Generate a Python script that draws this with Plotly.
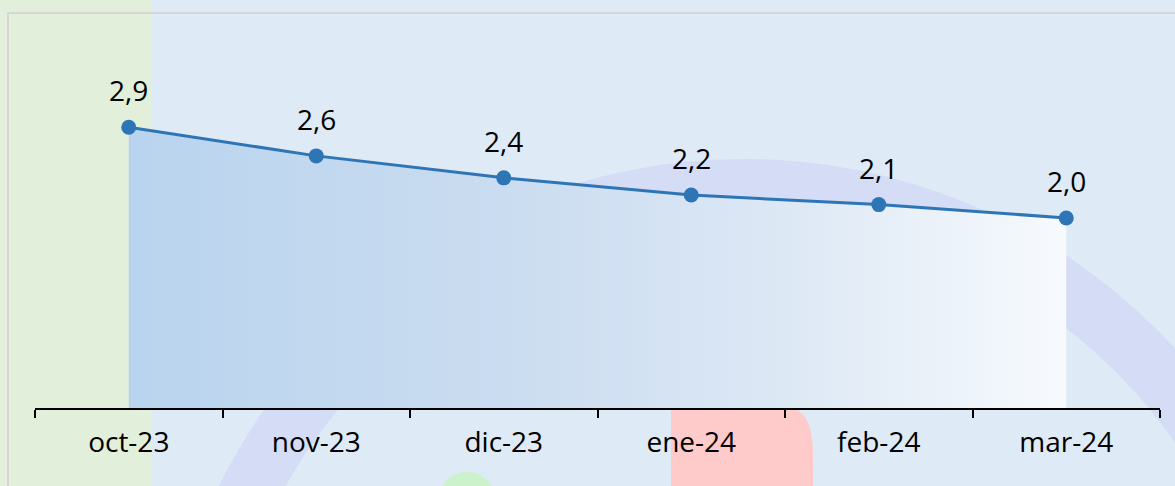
import plotly.graph_objects as go

# ---- data ----
categories = ["oct-23", "nov-23", "dic-23", "ene-24", "feb-24", "mar-24"]
values = [2.94, 2.64, 2.41, 2.23, 2.13, 1.99]
labels = [f"{v:.1f}".replace(".", ",") for v in values]

# ---- layout geometry (pixels) ----
W, H = 1175, 486
ML, MR, MT, MB = 35, 15, 26, 78
PW = W - ML - MR
PH = H - MT - MB
YMAX = PH / 95.5

BG = "#deeaf5"
LINE = "#2e75b6"
FONT = "Open Sans"


def px(x):
    return (x - ML) / PW


def py(y):
    return (H - MB - y) / PH


def circle(cx, cy, r, color):
    return dict(type="circle", xref="paper", yref="paper", layer="below",
                x0=px(cx - r), x1=px(cx + r), y0=py(cy + r), y1=py(cy - r),
                fillcolor=color, line=dict(width=0))


shapes = [
    # green strip on the left
    dict(type="rect", xref="paper", yref="paper", layer="below",
         x0=px(-5), x1=px(152), y0=py(H + 5), y1=py(-5),
         fillcolor="#e2efda", line=dict(width=0)),
    # lavender ring
    circle(744, 744, 585, "#d4dcf6"),
    circle(744, 744, 526, BG),
    # green blob
    circle(467, 501, 29, "#ccf2cc"),
]

# red rounded shape
path = "M {},{} L {},{} L {},{} Q {},{} {},{} L {},{} Z".format(
    px(671), py(H + 5), px(671), py(408), px(787), py(408),
    px(813), py(408), px(813), py(455), px(813), py(H + 5))
shapes.append(dict(type="path", xref="paper", yref="paper", layer="below",
                   path=path, fillcolor="#ffcaca", line=dict(width=0)))

# light border of the chart area
shapes.append(dict(type="rect", xref="paper", yref="paper", layer="below",
                   x0=px(8), x1=px(W + 10), y0=py(H + 10), y1=py(13),
                   fillcolor="rgba(0,0,0,0)", line=dict(color="#d6d6d6", width=2)))

fig = go.Figure()
fig.add_trace(go.Scatter(
    x=categories, y=values, mode="lines+markers",
    line=dict(color=LINE, width=3),
    marker=dict(color=LINE, size=15),
    fill="tozeroy",
    fillgradient=dict(type="horizontal",
                      colorscale=[[0, "#b9d4ee"], [0.4, "#cadcf0"],
                                  [0.7, "#dde8f5"], [1, "#f7fafd"]]),
    hoverinfo="skip",
))

annotations = [
    dict(x=c, y=v, text=t, showarrow=False, yshift=37,
         font=dict(family=FONT, size=28, color="#000000"))
    for c, v, t in zip(categories, values, labels)
]

fig.update_layout(
    width=W, height=H, autosize=False,
    margin=dict(l=ML, r=MR, t=MT, b=MB),
    paper_bgcolor=BG, plot_bgcolor="rgba(0,0,0,0)",
    showlegend=False,
    shapes=shapes,
    annotations=annotations,
    xaxis=dict(type="category", range=[-0.5, 5.5], showgrid=False,
               showline=True, linecolor="#000000", linewidth=1.5,
               ticks="outside", tickson="boundaries", ticklen=8,
               tickcolor="#000000", tickwidth=1.5, ticklabelstandoff=9,
               tickfont=dict(family=FONT, size=28, color="#000000"),
               zeroline=False),
    yaxis=dict(range=[0, YMAX], visible=False, showgrid=False, zeroline=False),
)

fig.write_html(
    "out.html",
    config={"displayModeBar": False},
    post_script="document.body.style.margin='0';document.body.style.padding='0';",
)
